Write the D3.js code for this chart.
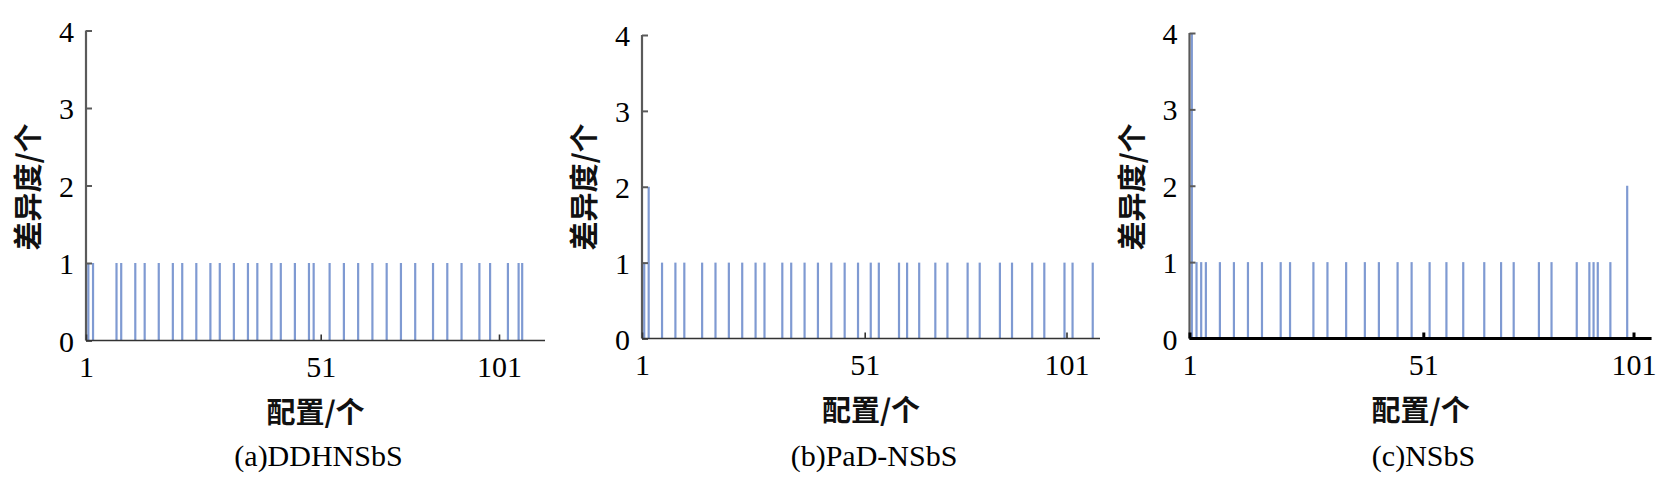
<!DOCTYPE html>
<html>
<head>
<meta charset="utf-8">
<script src="https://cdn.jsdelivr.net/npm/d3@7"></script>
<style>
  html, body { margin: 0; padding: 0; background: #fff; }
  svg { display: block; }
</style>
</head>
<body>
<svg id="chart" width="1665" height="485"></svg>
<script>
// ---------- data ----------
const yTicks = [0, 1, 2, 3, 4];
const xTickLabels = ["1", "51", "101"];
const xTickValues = [1, 51, 101];
const captions = ["(a)DDHNSbS", "(b)PaD-NSbS", "(c)NSbS"];
const xTitle = "配置/个";
const yTitle = "差异度/个";

// panel (a) DDHNSbS: configuration index and difference value
const configsA = [1, 2, 7, 8, 11, 13, 16, 19, 21, 24, 27, 29, 32, 35, 37, 40, 42, 45, 48, 49,
                  53, 57, 61, 65, 69, 73, 77, 82, 86, 90, 95, 98, 103, 106, 107];
const valuesA  = [1, 1, 1, 1, 1, 1, 1, 1, 1, 1, 1, 1, 1, 1, 1, 1, 1, 1, 1, 1,
                  1, 1, 1, 1, 1, 1, 1, 1, 1, 1, 1, 1, 1, 1, 1];

// panel (b) PaD-NSbS
const configsB = [1, 2, 5, 8, 10, 14, 17, 20, 23, 26, 28, 32, 34, 37, 40, 43, 46, 49,
                  52, 54, 59, 61, 64, 68, 71, 76, 79, 84, 87, 92, 95, 100, 102, 107];
const valuesB  = [1, 2, 1, 1, 1, 1, 1, 1, 1, 1, 1, 1, 1, 1, 1, 1, 1, 1,
                  1, 1, 1, 1, 1, 1, 1, 1, 1, 1, 1, 1, 1, 1, 1, 1];

// panel (c) NSbS
const configsC = [1, 2, 3, 4, 7, 10, 13, 16, 20, 22, 27, 30, 34, 38, 41, 45, 48,
                  52, 56, 60, 65, 69, 72, 78, 81, 87, 90, 91, 92, 95, 99];
const valuesC  = [4, 1, 1, 1, 1, 1, 1, 1, 1, 1, 1, 1, 1, 1, 1, 1, 1,
                  1, 1, 1, 1, 1, 1, 1, 1, 1, 1, 1, 1, 1, 2];

// ---------- layout ----------
const SERIF = '"Liberation Serif", "Times New Roman", Times, serif';
const CJK = '"Noto Sans CJK SC", "Noto Sans CJK JP", sans-serif';

const panels = [
  { configs: configsA, values: valuesA, caption: captions[0],
    left: 86, t51: 320.7, t101: 499, xEnd: 112.9, y0: 340.5, y4: 30.5, heavyX: false },
  { configs: configsB, values: valuesB, caption: captions[1],
    left: 642, t51: 864.7, t101: 1066.5, xEnd: 108.3, y0: 338.5, y4: 35, heavyX: false },
  { configs: configsC, values: valuesC, caption: captions[2],
    left: 1189.5, t51: 1423.3, t101: 1633.5, xEnd: 104.3, y0: 338.5, y4: 33, heavyX: true }
];

const svg = d3.select("#chart");
const barColor = "#7f9ad2";

panels.forEach(p => {
  const g = svg.append("g");
  // category boundaries: tick "1" at boundary 0, "51" at 50, "101" at 100
  const x = d3.scaleLinear().domain([0, 50, 100]).range([p.left, p.t51, p.t101]);
  const y = d3.scaleLinear().domain([0, 4]).range([p.y0, p.y4]);

  // bars
  g.selectAll("line.bar")
    .data(p.configs.map((c, i) => ({ c, v: p.values[i] })))
    .enter().append("line")
    .attr("class", "bar")
    .attr("x1", d => x(d.c - 0.5)).attr("x2", d => x(d.c - 0.5))
    .attr("y1", y(0)).attr("y2", d => y(d.v))
    .attr("stroke", barColor).attr("stroke-width", 2.2);

  // y axis
  const yAxis = d3.axisLeft(y).tickValues(yTicks).tickSize(-6).tickPadding(18)
    .tickFormat(d3.format("d"));
  const ya = g.append("g").attr("transform", `translate(${p.left},0)`).call(yAxis);
  ya.attr("font-family", null).attr("font-size", null);
  ya.select(".domain").attr("stroke", "#5a5a5a").attr("stroke-width", 2.2)
    .attr("d", `M-0,${y(0)}V${y(4)}`);
  ya.selectAll(".tick line").attr("stroke", "#5a5a5a").attr("stroke-width", 2);
  ya.selectAll(".tick text")
    .style("font-family", SERIF).style("font-size", "30px").style("fill", "#000")
    .attr("dy", "0.35em").attr("x", -12);

  // x axis
  const xa = g.append("g").attr("transform", `translate(0,${p.y0})`);
  const xAxis = d3.axisBottom(x).tickValues(xTickValues.map(v => v - 1))
    .tickSize(-6).tickPadding(0).tickFormat((d, i) => xTickLabels[i]);
  xa.call(xAxis);
  xa.attr("font-family", null).attr("font-size", null);
  xa.select(".domain")
    .attr("d", `M${x(0)},0H${x(p.xEnd)}`)
    .attr("stroke", p.heavyX ? "#000" : "#333")
    .attr("stroke-width", p.heavyX ? 3.2 : 1.6);
  xa.selectAll(".tick line")
    .attr("stroke", p.heavyX ? "#000" : "#333")
    .attr("stroke-width", p.heavyX ? 3 : 1.6);
  xa.selectAll(".tick text")
    .style("font-family", SERIF).style("font-size", "30px").style("fill", "#000")
    .attr("y", 36).attr("dy", 0);

  const mid = (x(0) + x(p.xEnd)) / 2;
  // x title
  g.append("text")
    .style("font-family", CJK).style("font-size", "29px").style("font-weight", "bold")
    .style("fill", "#111")
    .attr("x", mid).attr("y", p.y0 + 82)
    .attr("text-anchor", "middle").text(xTitle);
  // y title
  g.append("text")
    .style("font-family", CJK).style("font-size", "29px").style("font-weight", "bold")
    .style("fill", "#111")
    .attr("transform", `translate(${p.left - 47},${187}) rotate(-90)`)
    .attr("text-anchor", "middle").text(yTitle);
  // caption
  g.append("text")
    .style("font-family", SERIF).style("font-size", "30px").style("fill", "#000")
    .attr("x", mid + 3).attr("y", 466)
    .attr("text-anchor", "middle").text(p.caption);
});
</script>
</body>
</html>
